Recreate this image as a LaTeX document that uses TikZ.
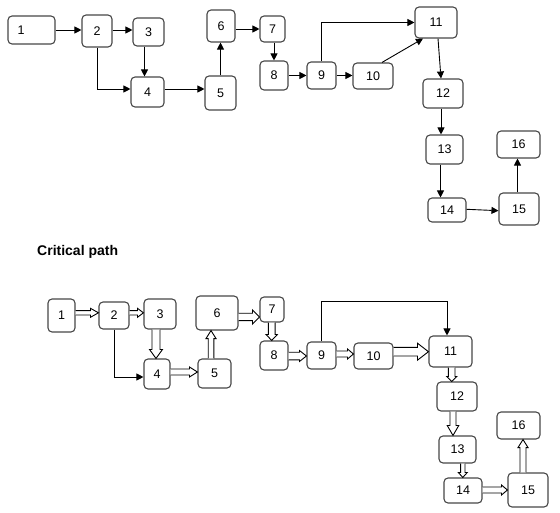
\documentclass[tikz,border=0pt]{standalone}
\usepackage{fontspec}
\setmainfont{Liberation Sans}
\usetikzlibrary{calc,arrows.meta}
\tikzset{
  box/.style={draw=black!72, line width=1.1pt, rounded corners=4pt, inner sep=0pt,
    font=\fontsize{12.5}{14}\selectfont, text=black},
  con/.style={draw=black, line width=0.9pt, -{Triangle[length=7pt,width=7pt]}},
  hol/.style={draw=black, line width=0.9pt, fill=white, line join=miter},
  title/.style={font=\bfseries\fontsize{14}{16}\selectfont, anchor=base west, inner sep=0pt}
}
% box: name, x1, y1, x2, y2, text
\newcommand\bx[6]{\node[box, minimum width={(#4-#2)*1pt}, minimum height={(#5-#3)*1pt}] (#1) at ({(#2+#4)/2},{(#3+#5)/2}) {#6};}
% hollow block arrow: start, op (-| or |-), target anchor, shaft half, head half, head length
\newcommand\harr[6]{%
  \path #1 coordinate (hA);
  \path (hA #2 #3) coordinate (hB);
  \coordinate (hN) at ($(hB)!#6pt!(hA)$);
  \draw[hol] ($(hA)!#4pt!90:(hB)$) -- ($(hN)!#4pt!90:(hB)$) -- ($(hN)!#5pt!90:(hB)$) -- (hB)
    -- ($(hN)!#5pt!-90:(hB)$) -- ($(hN)!#4pt!-90:(hB)$) -- ($(hA)!#4pt!-90:(hB)$);
}
\begin{document}
\begin{tikzpicture}[x=1pt,y=-1pt]
\useasboundingbox (0,0) rectangle (560,513);

% ---------------- top network ----------------
\node[box, minimum width=47pt, minimum height=28pt, label={[font=\fontsize{12.5}{14}\selectfont, xshift=-10.5pt]center:1}] (t1) at (31.5,30) {};
\bx{t2}{82}{15}{112}{47}{2}
\bx{t3}{133}{18}{164}{46}{3}
\bx{t4}{131}{77}{164}{107}{4}
\bx{t5}{205}{76}{236}{110}{5}
\bx{t6}{207}{10}{235}{42}{6}
\bx{t7}{260}{16}{285}{42}{7}
\bx{t8}{260}{61}{288}{90}{8}
\bx{t9}{307}{62}{336}{89}{9}
\bx{t10}{353}{63}{393}{89}{10}
\bx{t11}{415}{7}{457}{38}{11}
\bx{t12}{423}{79}{463}{108}{12}
\bx{t13}{426}{135}{463}{164}{13}
\bx{t14}{428}{198}{466}{222}{14}
\bx{t15}{499}{193}{539}{225}{15}
\bx{t16}{497}{131}{540}{158}{16}

\draw[con] (t1.east) -- (t1.east -| t2.west);
\draw[con] ($(t2.east)+(0,-1)$) coordinate (c23) -- (c23 -| t3.west);
\draw[con] ($(t3.south)+(-4,0)$) coordinate (c34) -- (c34 |- t4.north);
\draw[con] (t2.south) |- ($(t4.west)+(0,-3)$);
\draw[con] ($(t4.east)+(0,-3)$) coordinate (c45) -- (c45 -| t5.west);
\draw[con] (t5.north) -- (t5.north |- t6.south);
\draw[con] ($(t6.east)+(0,3)$) coordinate (c67) -- (c67 -| t7.west);
\draw[con] ($(t7.south)+(1.5,0)$) coordinate (c78) -- (c78 |- t8.north);
\draw[con] (t8.east) -- (t8.east -| t9.west);
\draw[con] (t9.east) -- (t9.east -| t10.west);
\draw[con] (t9.north) |- (t11.west);
\draw[con] ($(t10.north)+(9,0)$) -- ($(t11.south)+(-13,0)$);
\draw[con] ($(t11.south)+(2,0)$) -- ($(t12.north)+(-2,0)$);
\draw[con] ($(t12.south)+(-2,0)$) coordinate (c1213) -- (c1213 |- t13.north);
\draw[con] ($(t13.south)+(-4,0)$) coordinate (c1314) -- (c1314 |- t14.north);
\draw[con] ($(t14.east)+(0,-0.7)$) -- ($(t15.west)+(0,1.7)$);
\draw[con] ($(t15.north)+(-1.5,0)$) coordinate (c1516) -- (c1516 |- t16.south);

% ---------------- title ----------------
\node[title] (cp) at (37,255.5) {Critical path};

% ---------------- critical path network ----------------
\bx{b1}{48}{299}{75}{332}{1}
\bx{b2}{99}{302}{129}{329}{2}
\bx{b3}{144}{299}{176}{329}{3}
\bx{b4}{144}{359}{170}{389}{4}
\bx{b5}{198}{359}{231}{388}{5}
\bx{b6}{196}{296}{238}{330}{6}
\bx{b7}{260}{297}{284}{322}{7}
\bx{b8}{260}{341}{288}{370}{8}
\bx{b9}{307}{342}{336}{369}{9}
\bx{b10}{354}{343}{393}{369}{10}
\bx{b11}{429}{336}{472}{367}{11}
\bx{b12}{437}{382}{477}{411}{12}
\bx{b13}{439}{436}{476}{463}{13}
\bx{b14}{444}{478}{482}{503}{14}
\bx{b15}{508}{473}{548}{507}{15}
\bx{b16}{497}{412}{540}{439}{16}

\harr{($(b1.east)+(0,-2.7)$)}{-|}{b2.west}{2.2}{4.5}{8}
\harr{($(b2.east)+(0,-2.7)$)}{-|}{b3.west}{2.2}{4.5}{6}
\harr{($(b3.south)+(-4,0)$)}{|-}{b4.north}{4}{6.5}{9}
\draw[con] (b2.south) |- ($(b4.west)+(0,3)$);
\harr{($(b4.east)+(0,-2)$)}{-|}{b5.west}{3}{5}{8}
\harr{($(b5.north)+(-3.5,0)$)}{|-}{b6.south}{2.8}{5}{8}
\harr{($(b6.east)+(0,4)$)}{-|}{b7.west}{3.7}{7}{7}
\harr{($(b7.south)+(-0.3,0)$)}{|-}{b8.north}{3.4}{5.7}{6}
\harr{($(b8.east)+(0,0.5)$)}{-|}{b9.west}{3.8}{5.5}{7}
\harr{($(b9.east)+(0,-1.5)$)}{-|}{b10.west}{3}{5}{6}
\draw[con] (b9.north) -- ++(0,-40) -| ($(b11.north)+(-3.5,0)$);
\harr{($(b10.east)+(0,-4.3)$)}{-|}{b11.west}{4.3}{8.5}{11}
\harr{($(b11.south)+(1.2,0)$)}{|-}{b12.north}{3.3}{5}{5}
\harr{($(b12.south)+(-4,0)$)}{|-}{b13.north}{3}{5.8}{10}
\harr{($(b13.south)+(5.3,0)$)}{|-}{b14.north}{2.2}{4.5}{5}
\harr{($(b14.east)+(0,-0.5)$)}{-|}{b15.west}{3}{5}{6}
\harr{($(b15.north)+(-5,0)$)}{|-}{b16.south}{3}{5}{8}
\end{tikzpicture}
\end{document}
